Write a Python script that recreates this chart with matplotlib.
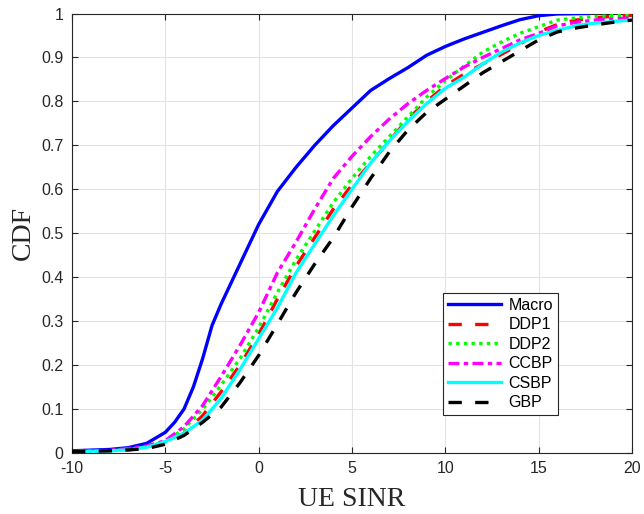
import matplotlib
matplotlib.use("Agg")
import matplotlib.pyplot as plt

plt.rcParams["axes.unicode_minus"] = False

# ---- data ----
x_macro = [-10, -8, -7, -6, -5, -4.5, -4, -3.5, -3, -2.5, -2, -1.5, -1, -0.5, 0, 1, 2, 3, 4, 5, 6, 7, 8, 9, 10, 11, 12, 13, 14, 15, 16, 17.6]
y_macro = [0.005, 0.008, 0.012, 0.022, 0.047, 0.07, 0.1, 0.15, 0.215, 0.29, 0.34, 0.385, 0.43, 0.475, 0.52, 0.595, 0.65, 0.7, 0.745, 0.785, 0.825, 0.852, 0.877, 0.905, 0.925, 0.942, 0.957, 0.972, 0.986, 0.995, 0.999, 1.0]

x_common = [-10, -8, -7, -6, -5, -4, -3, -2, -1, 0, 1, 2, 3, 4, 5, 6, 7, 8, 9, 10, 11, 12, 13, 14, 15, 16, 17, 18, 19, 20]
y_ddp1 = [0.003, 0.005, 0.007, 0.012, 0.022, 0.045, 0.085, 0.14, 0.2, 0.27, 0.35, 0.425, 0.49, 0.555, 0.61, 0.66, 0.71, 0.76, 0.8, 0.835, 0.862, 0.885, 0.907, 0.93, 0.958, 0.975, 0.985, 0.99, 0.994, 0.996]
y_ddp2 = [0.003, 0.005, 0.008, 0.014, 0.025, 0.055, 0.1, 0.155, 0.215, 0.285, 0.365, 0.44, 0.505, 0.57, 0.625, 0.675, 0.72, 0.765, 0.81, 0.847, 0.88, 0.912, 0.935, 0.955, 0.97, 0.985, 0.99, 0.993, 0.995, 0.997]
y_ccbp = [0.003, 0.006, 0.01, 0.016, 0.028, 0.06, 0.108, 0.175, 0.245, 0.32, 0.41, 0.48, 0.555, 0.625, 0.675, 0.72, 0.76, 0.795, 0.825, 0.852, 0.878, 0.9, 0.92, 0.94, 0.955, 0.972, 0.98, 0.985, 0.988, 0.99]
y_csbp = [0.003, 0.005, 0.007, 0.013, 0.026, 0.045, 0.075, 0.125, 0.19, 0.26, 0.33, 0.41, 0.475, 0.54, 0.6, 0.66, 0.71, 0.755, 0.795, 0.83, 0.855, 0.885, 0.912, 0.933, 0.95, 0.962, 0.972, 0.978, 0.982, 0.985]
y_gbp = [0.003, 0.005, 0.007, 0.01, 0.02, 0.04, 0.07, 0.105, 0.16, 0.222, 0.293, 0.365, 0.43, 0.49, 0.56, 0.625, 0.685, 0.735, 0.775, 0.805, 0.835, 0.865, 0.89, 0.915, 0.94, 0.958, 0.967, 0.974, 0.98, 0.985]

labels = ["Macro", "DDP1", "DDP2", "CCBP", "CSBP", "GBP"]
x_ticks = [-10, -5, 0, 5, 10, 15, 20]
y_ticks = [0, 0.1, 0.2, 0.3, 0.4, 0.5, 0.6, 0.7, 0.8, 0.9, 1]
y_tick_labels = ["0", "0.1", "0.2", "0.3", "0.4", "0.5", "0.6", "0.7", "0.8", "0.9", "1"]

# ---- figure ----
fig = plt.figure(figsize=(6.44, 5.14), dpi=100)
ax = fig.add_axes([72/644, 61/514, 560/644, 439.5/514])

lw = 2.4
ax.plot(x_macro, y_macro, color="#0000ff", lw=lw, label=labels[0], zorder=3)
ax.plot(x_common, y_ddp1, color="#ff0000", lw=lw, dashes=(4.0, 4.0), label=labels[1], zorder=3)
ax.plot(x_common, y_ddp2, color="#00ff00", lw=lw, dashes=(1, 1.3), label=labels[2], zorder=3)
ax.plot(x_common, y_ccbp, color="#ff00ff", lw=lw, dashes=(3.3, 1.3, 1.3, 1.3), label=labels[3], zorder=3)
ax.plot(x_common, y_csbp, color="#00ffff", lw=lw, label=labels[4], zorder=3)
ax.plot(x_common, y_gbp, color="#000000", lw=lw, dashes=(4.0, 4.0), label=labels[5], zorder=3)

ax.set_xlim(-10, 20)
ax.set_ylim(0, 1)
ax.set_xticks(x_ticks)
ax.set_yticks(y_ticks)
ax.set_yticklabels(y_tick_labels)
ax.grid(True, color="#e3e3e3", lw=0.8)
ax.set_axisbelow(True)

for s in ax.spines.values():
    s.set_color("#262626")
    s.set_linewidth(0.8)
ax.tick_params(direction="in", length=4, width=0.8, color="#262626",
               top=True, right=True, labelsize=11.5, labelcolor="#262626", pad=6)
for t in ax.get_xticklabels() + ax.get_yticklabels():
    t.set_fontfamily("Liberation Sans")

ax.set_xlabel("UE SINR", family="Liberation Serif", fontsize=20, color="#262626", labelpad=8)
ax.set_ylabel("CDF", family="Liberation Serif", fontsize=20, color="#262626", labelpad=4)

leg = ax.legend(loc="upper left", bbox_to_anchor=((443-72)/560, (453-293)/439.5),
                prop={"family": "Liberation Sans", "size": 11.5},
                fancybox=False, framealpha=1, edgecolor="#262626",
                handlelength=3.3, labelspacing=0.28, handletextpad=0.5,
                borderpad=0.3, borderaxespad=0)
leg.get_frame().set_linewidth(0.8)

fig.savefig("out.png", dpi=100)
